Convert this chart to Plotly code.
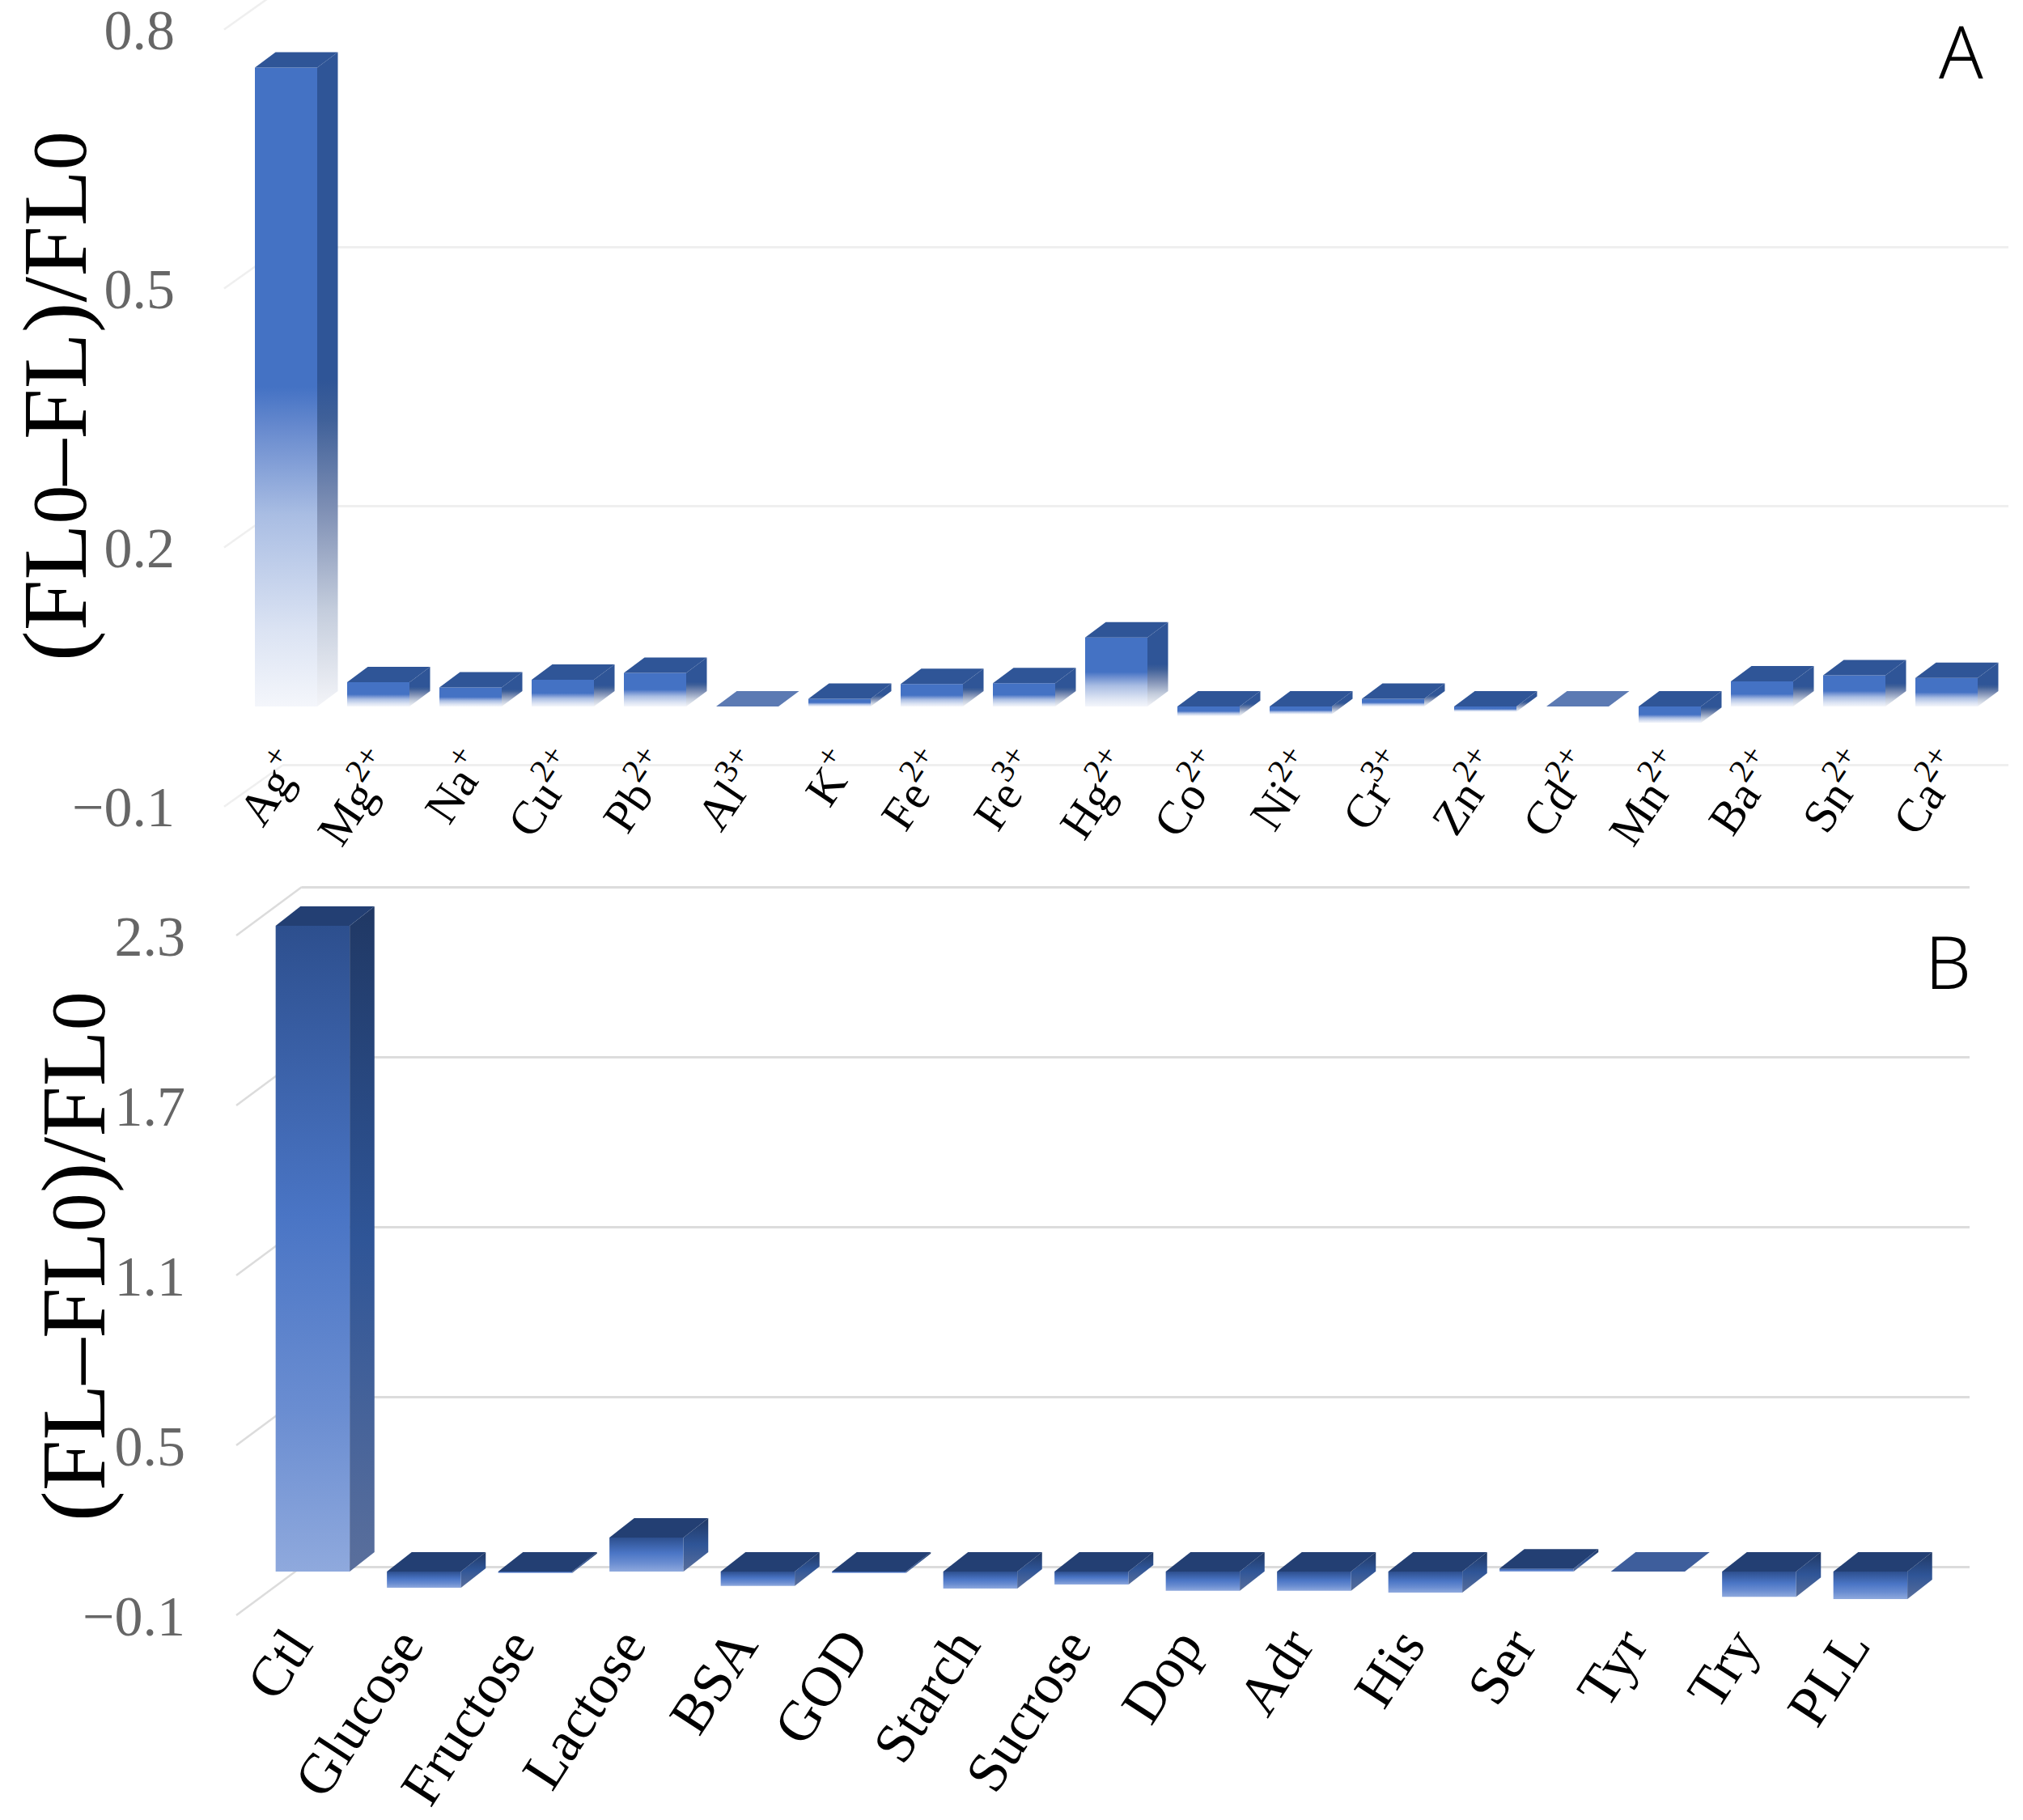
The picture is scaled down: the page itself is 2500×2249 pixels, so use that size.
import plotly.graph_objects as go

W, H = 2500, 2249

# ---------- data ----------
labels_a = ["Ag<sup>+</sup>", "Mg<sup>2+</sup>", "Na<sup>+</sup>", "Cu<sup>2+</sup>", "Pb<sup>2+</sup>",
            "Al<sup>3+</sup>", "K<sup>+</sup>", "Fe<sup>2+</sup>", "Fe<sup>3+</sup>", "Hg<sup>2+</sup>",
            "Co<sup>2+</sup>", "Ni<sup>2+</sup>", "Cr<sup>3+</sup>", "Zn<sup>2+</sup>", "Cd<sup>2+</sup>",
            "Mn<sup>2+</sup>", "Ba<sup>2+</sup>", "Sn<sup>2+</sup>", "Ca<sup>2+</sup>"]
values_a = [0.74, 0.028, 0.022, 0.031, 0.039, 0.0, 0.009, 0.026, 0.027, 0.08,
            -0.011, -0.009, 0.009, -0.006, 0.0, -0.019, 0.029, 0.036, 0.033]
ticks_a = [0.8, 0.5, 0.2, -0.1]
ticktext_a = ["0.8", "0.5", "0.2", "\u22120.1"]

labels_b = ["Ctl", "Glucose", "Fructose", "Lactose", "BSA", "GOD", "Starch", "Sucrose",
            "Dop", "Adr", "His", "Ser", "Tyr", "Try", "PLL"]
values_b = [2.28, -0.057, -0.005, 0.12, -0.051, -0.005, -0.06, -0.046,
            -0.068, -0.068, -0.074, 0.011, 0.0, -0.089, -0.097]
ticks_b = [2.3, 1.7, 1.1, 0.5, -0.1]
ticktext_b = ["2.3", "1.7", "1.1", "0.5", "\u22120.1"]

SERIF = "Liberation Serif"
fig = go.Figure()


def fx(px):
    return px / W


def fy(px):
    return 1 - px / H


def panel(n, labels, values, ticks, ticktext, cfg):
    """n: first axis number. Axis n = back wall, axis n+1 = front plane with the bars."""
    sx = cfg["px_per_cat"]
    sy = cfg["px_per_unit"]
    back, main = n, n + 1
    sfx = lambda k: "" if k == 1 else str(k)
    # back wall -- gridlines
    bt, bb = cfg["back_y_dom"]
    y_back = lambda px: (cfg["back_zero"] - px) / sy
    fig.add_trace(go.Scatter(x=[0, 1], y=[ticks[-1], ticks[-1]], mode="lines",
                             line=dict(width=0), hoverinfo="skip", showlegend=False,
                             xaxis="x" + sfx(back), yaxis="y" + sfx(back)))
    fig.update_layout({
        "xaxis" + sfx(back): dict(domain=[fx(cfg["back_x"][0]), fx(cfg["back_x"][1])], range=[0, 1],
                                  visible=False, anchor="y" + sfx(back), automargin=False),
        "yaxis" + sfx(back): dict(domain=[fy(bb), fy(bt)], range=[y_back(bb), y_back(bt)],
                                  tickvals=ticks, showticklabels=False, ticks="", zeroline=False,
                                  showline=False, showgrid=True, gridcolor=cfg["grid"], gridwidth=cfg["gridw"],
                                  anchor="x" + sfx(back), automargin=False),
    })
    # front plane -- ticks and bars
    mt, mb = cfg["main_y_dom"]
    y_main = lambda px: (cfg["front_zero"] - px) / sy
    x_main = lambda px: (px - cfg["center0"]) / sx
    fig.update_layout({
        "xaxis" + sfx(main): dict(domain=[fx(cfg["left"]), fx(W)],
                                  range=[x_main(cfg["left"]), x_main(W)],
                                  tickmode="array",
                                  tickvals=[i + cfg["label_dx"] for i in range(len(labels))],
                                  ticktext=labels,
                                  tickangle=cfg["angle"], ticks="", showgrid=False, zeroline=False,
                                  showline=False, anchor="free", automargin=False,
                                  position=fy(cfg["label_y"]), ticklabeloverflow="allow",
                                  tickfont=dict(family=SERIF, size=cfg["label_size"], color="#000000")),
        "yaxis" + sfx(main): dict(domain=[fy(mb), fy(mt)], range=[y_main(mb), y_main(mt)],
                                  tickmode="array", tickvals=ticks, ticktext=ticktext, ticks="",
                                  showgrid=False, zeroline=False, showline=False,
                                  anchor="x" + sfx(main), automargin=False, ticklabeloverflow="allow",
                                  tickfont=dict(family=SERIF, size=70, color="#666666")),
    })
    ax = dict(xaxis="x" + sfx(main), yaxis="y" + sfx(main), hoverinfo="skip", showlegend=False)

    # depth lines joining the front ticks to the back wall
    wall_dy = (cfg["front_zero"] - cfg["back_zero"]) / sy
    wall_dx = (cfg["back_x"][0] - cfg["depth_front_x"]) / sx
    x0 = x_main(cfg["depth_front_x"])
    for t in ticks:
        fig.add_trace(go.Scatter(x=[x0, x0 + wall_dx], y=[t, t + wall_dy], mode="lines",
                                 line=dict(color=cfg["grid"], width=cfg["gridw"]), **ax))

    half = cfg["bar_w"] / sx / 2
    dx = cfg["bar_dx"] / sx
    dy = cfg["bar_dy"] / sy
    inset = (cfg["front_zero"] - cfg["bar_base"]) / sy

    def poly(xs, ys, grad=None, solid=None):
        kw = dict(x=xs + xs[:1], y=ys + ys[:1], mode="lines", line=dict(width=0), fill="toself", **ax)
        if grad is not None:
            kw["fillgradient"] = dict(type="vertical", colorscale=grad)
            kw["fillcolor"] = grad[-1][1]
        else:
            kw["fillcolor"] = solid
        fig.add_trace(go.Scatter(**kw))

    for i, v in enumerate(values):
        top = max(v, 0) + inset
        bot = min(v, 0) + inset
        l, r = i - half, i + half
        if v != 0 and abs(top - bot) * sy > 1:
            poly([l, r, r, l], [bot, bot, top, top], grad=cfg["front"])
            poly([r, r + dx, r + dx, r], [bot, bot + dy, top + dy, top], grad=cfg["side"])
        poly([l, r, r + dx, l + dx], [top, top, top + dy, top + dy],
             solid=cfg["top_flat"] if v == 0 else cfg["top"])


panel(1, labels_a, values_a, ticks_a, ticktext_a, dict(
    px_per_cat=114.0, px_per_unit=1067.0, center0=353.5, left=217,
    back_x=(349, 2482), back_y_dom=(0, 955), back_zero=839,
    main_y_dom=(0, 1012), front_zero=890, label_y=900, label_dx=0.0, label_size=58, angle=-56,
    depth_front_x=277, grid="#efefef", gridw=2.5,
    bar_w=77, bar_dx=25.5, bar_dy=19, bar_base=873,
    front=[[0, "#f4f6fb"], [0.12, "#dbe3f3"], [0.3, "#a9bde3"], [0.43, "#6a8ccf"], [0.5, "#4472c4"], [1, "#4472c4"]],
    side=[[0, "#f3f4f8"], [0.15, "#c3ccdc"], [0.3, "#7f90b5"], [0.44, "#3f6099"], [0.5, "#2f5597"], [1, "#2f5597"]],
    top="#2f5597", top_flat="#5c7ab3",
))

panel(3, labels_b, values_b, ticks_b, ticktext_b, dict(
    px_per_cat=137.5, px_per_unit=350.0, center0=386.4, left=230,
    back_x=(373, 2434), back_y_dom=(1085, 1945), back_zero=1901,
    main_y_dom=(1085, 2012), front_zero=1961, label_y=1978, label_dx=-0.2, label_size=70, angle=-57,
    depth_front_x=292, grid="#dcdcdc", gridw=2.5,
    bar_w=91.5, bar_dx=30.6, bar_dy=24, bar_base=1942,
    front=[[0, "#8fa9dd"], [0.25, "#6a8dd1"], [0.55, "#4a75c5"], [1, "#2d4f8e"]],
    side=[[0, "#5a6f9c"], [0.5, "#2f5597"], [1, "#203864"]],
    top="#233f73", top_flat="#3e5e9c",
))

zero_a = '<span style="font-size:96px">0</span>'
fig.update_layout(
    width=W, height=H, margin=dict(l=0, r=0, t=0, b=0), autosize=False,
    paper_bgcolor="#ffffff", plot_bgcolor="rgba(0,0,0,0)", showlegend=False,
    annotations=[
        dict(text=f"(FL{zero_a}\u2013FL)/FL{zero_a}", textangle=-90, x=68 / W, y=1 - 490 / H,
             xref="paper", yref="paper", showarrow=False, xanchor="center", yanchor="middle",
             font=dict(family=SERIF, size=113, color="#000000")),
        dict(text=f"(FL\u2013FL{zero_a})/FL{zero_a}", textangle=-90, x=90 / W, y=1 - 1553 / H,
             xref="paper", yref="paper", showarrow=False, xanchor="center", yanchor="middle",
             font=dict(family=SERIF, size=113, color="#000000")),
        dict(text="A", x=2423 / W, y=1 - 62 / H, xref="paper", yref="paper", showarrow=False,
             xanchor="center", yanchor="middle", font=dict(family="Noto Sans", size=90, color="#000000", weight=300)),
        dict(text="B", x=2407 / W, y=1 - 1187 / H, xref="paper", yref="paper", showarrow=False,
             xanchor="center", yanchor="middle", font=dict(family="Noto Sans", size=90, color="#000000", weight=300)),
    ],
)

fig.write_html("out.html", post_script="document.body.style.margin='0';",
               config={"displayModeBar": False})
